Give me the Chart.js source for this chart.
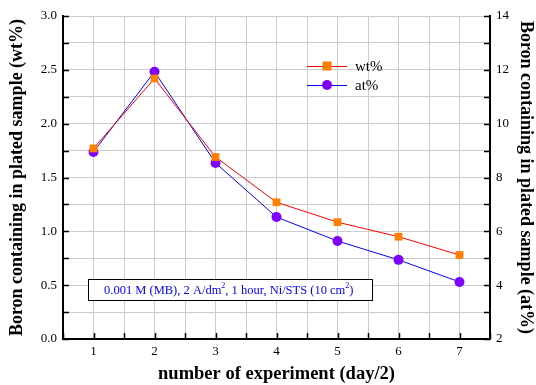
<!DOCTYPE html>
<html>
<head>
<meta charset="utf-8">
<script src="https://cdn.jsdelivr.net/npm/chart.js@4"></script>
<style>
  html, body { margin: 0; padding: 0; background: #fff; }
  #wrap { width: 536px; height: 385px; }
</style>
</head>
<body>
<div id="wrap"><canvas id="chart"></canvas></div>
<script>
// ===== Dados =====
const experiments = [1, 2, 3, 4, 5, 6, 7];
const wtPercent = [1.77, 2.42, 1.69, 1.27, 1.085, 0.95, 0.78];
const atPercent = [8.95, 11.93, 8.54, 6.53, 5.64, 4.94, 4.12];
const noteText = ["0.001 M (MB), 2 A/dm", "2", ", 1 hour, Ni/STS (10 cm", "2", ")"];

const serif = "'Liberation Serif', 'Times New Roman', serif";

// ===== Ticks para dentro =====
const innerTicks = {
  id: "innerTicks",
  afterDraw(chart) {
    const ctx = chart.ctx;
    const a = chart.chartArea;
    const len = 6;
    ctx.save();
    ctx.strokeStyle = "#000";
    ctx.lineWidth = 1.5;
    ctx.beginPath();
    chart.scales.x.ticks.forEach(t => {
      const px = Math.round(chart.scales.x.getPixelForValue(t.value)) + 0.5;
      ctx.moveTo(px, a.bottom); ctx.lineTo(px, a.bottom - len);
    });
    chart.scales.y.ticks.forEach(t => {
      const py = Math.round(chart.scales.y.getPixelForValue(t.value)) + 0.5;
      ctx.moveTo(a.left, py); ctx.lineTo(a.left + len, py);
    });
    chart.scales.y2.ticks.forEach(t => {
      const py = Math.round(chart.scales.y2.getPixelForValue(t.value)) + 0.5;
      ctx.moveTo(a.right, py); ctx.lineTo(a.right - len, py);
    });
    ctx.stroke();
    ctx.restore();
  }
};

// ===== Legenda e caixa de nota =====
const extras = {
  id: "extras",
  afterDraw(chart) {
    const ctx = chart.ctx;
    ctx.save();
    // legenda
    const items = [
      { ds: chart.data.datasets[0], y: 66 },
      { ds: chart.data.datasets[1], y: 85 }
    ];
    items.forEach(it => {
      ctx.strokeStyle = it.ds.borderColor;
      ctx.lineWidth = 1;
      ctx.beginPath();
      ctx.moveTo(307, it.y + 0.5); ctx.lineTo(347, it.y + 0.5);
      ctx.stroke();
      ctx.fillStyle = it.ds.pointBackgroundColor;
      if (it.ds.pointStyle === "rect") {
        ctx.fillRect(327 - 4.5, it.y - 4.5, 9, 9);
      } else {
        ctx.beginPath(); ctx.arc(327, it.y, 5, 0, Math.PI * 2); ctx.fill();
      }
      ctx.fillStyle = "#000";
      ctx.font = "15px " + serif;
      ctx.textBaseline = "middle";
      ctx.textAlign = "left";
      ctx.fillText(it.ds.label, 355, it.y + 1);
    });

    // caixa
    ctx.fillStyle = "#fff";
    ctx.fillRect(88, 279, 284, 21);
    ctx.strokeStyle = "#000";
    ctx.lineWidth = 1;
    ctx.strokeRect(88.5, 279.5, 284, 21);
    let x = 104;
    const base = 294;
    ctx.fillStyle = "#0000ff";
    ctx.textBaseline = "alphabetic";
    noteText.forEach((s, i) => {
      const sup = i % 2 === 1;
      ctx.font = (sup ? "8px " : "12.5px ") + serif;
      ctx.fillText(s, x, sup ? base - 6 : base);
      x += ctx.measureText(s).width;
    });
    ctx.restore();
  }
};

new Chart(document.getElementById("chart"), {
  type: "line",
  data: {
    datasets: [
      {
        label: "wt%",
        data: experiments.map((e, i) => ({ x: e, y: wtPercent[i] })),
        yAxisID: "y",
        borderColor: "#ff0000",
        borderWidth: 1,
        pointStyle: "rect",
        pointRadius: 5.5,
        pointBackgroundColor: "#ff8000",
        pointBorderWidth: 0,
        tension: 0
      },
      {
        label: "at%",
        data: experiments.map((e, i) => ({ x: e, y: atPercent[i] })),
        yAxisID: "y2",
        borderColor: "#0000ff",
        borderWidth: 1,
        pointStyle: "circle",
        pointRadius: 5,
        pointBackgroundColor: "#8000ff",
        pointBorderWidth: 0,
        tension: 0
      }
    ]
  },
  options: {
    responsive: true,
    maintainAspectRatio: false,
    animation: false,
    layout: { padding: { top: 16, left: 0, right: 0, bottom: 0 } },
    plugins: { legend: { display: false }, tooltip: { enabled: false } },
    scales: {
      x: {
        type: "linear",
        min: 0.5, max: 7.5,
        afterFit: s => { s.height = 46; },
        ticks: {
          stepSize: 0.5,
          autoSkip: false,
          maxRotation: 0,
          padding: 5,
          color: "#000",
          font: { family: serif, size: 13 },
          callback: v => Number.isInteger(v) ? String(v) : ""
        },
        grid: { color: "#cccccc", drawTicks: false },
        border: { color: "#000", width: 2 },
        title: {
          display: true,
          text: "number of experiment (day/2)",
          color: "#000",
          font: { family: serif, size: 18.5, weight: "bold" },
          padding: { top: 2, bottom: 0 }
        }
      },
      y: {
        position: "left",
        min: 0, max: 3,
        afterFit: s => { s.width = 63; },
        ticks: {
          stepSize: 0.25,
          autoSkip: false,
          padding: 6,
          color: "#000",
          font: { family: serif, size: 13 },
          callback: v => (Math.round(v * 100) % 50 === 0) ? v.toFixed(1) : ""
        },
        grid: { color: "#cccccc", drawTicks: false },
        border: { color: "#000", width: 2 },
        title: {
          display: true,
          text: "Boron containing in plated sample (wt%)",
          color: "#000",
          font: { family: serif, size: 18, weight: "bold" },
          padding: { top: 7, bottom: 0 }
        }
      },
      y2: {
        position: "right",
        min: 2, max: 14,
        afterFit: s => { s.width = 46; },
        ticks: {
          stepSize: 1,
          autoSkip: false,
          padding: 6,
          color: "#000",
          font: { family: serif, size: 13 },
          callback: v => v % 2 === 0 ? String(v) : ""
        },
        grid: { drawOnChartArea: false, drawTicks: false },
        border: { color: "#000", width: 2 },
        title: {
          display: true,
          text: "Boron containing in plated sample (at%)",
          color: "#000",
          font: { family: serif, size: 18, weight: "bold" },
          padding: { top: 0, bottom: 2 }
        }
      }
    }
  },
  plugins: [innerTicks, extras]
});
</script>
</body>
</html>
